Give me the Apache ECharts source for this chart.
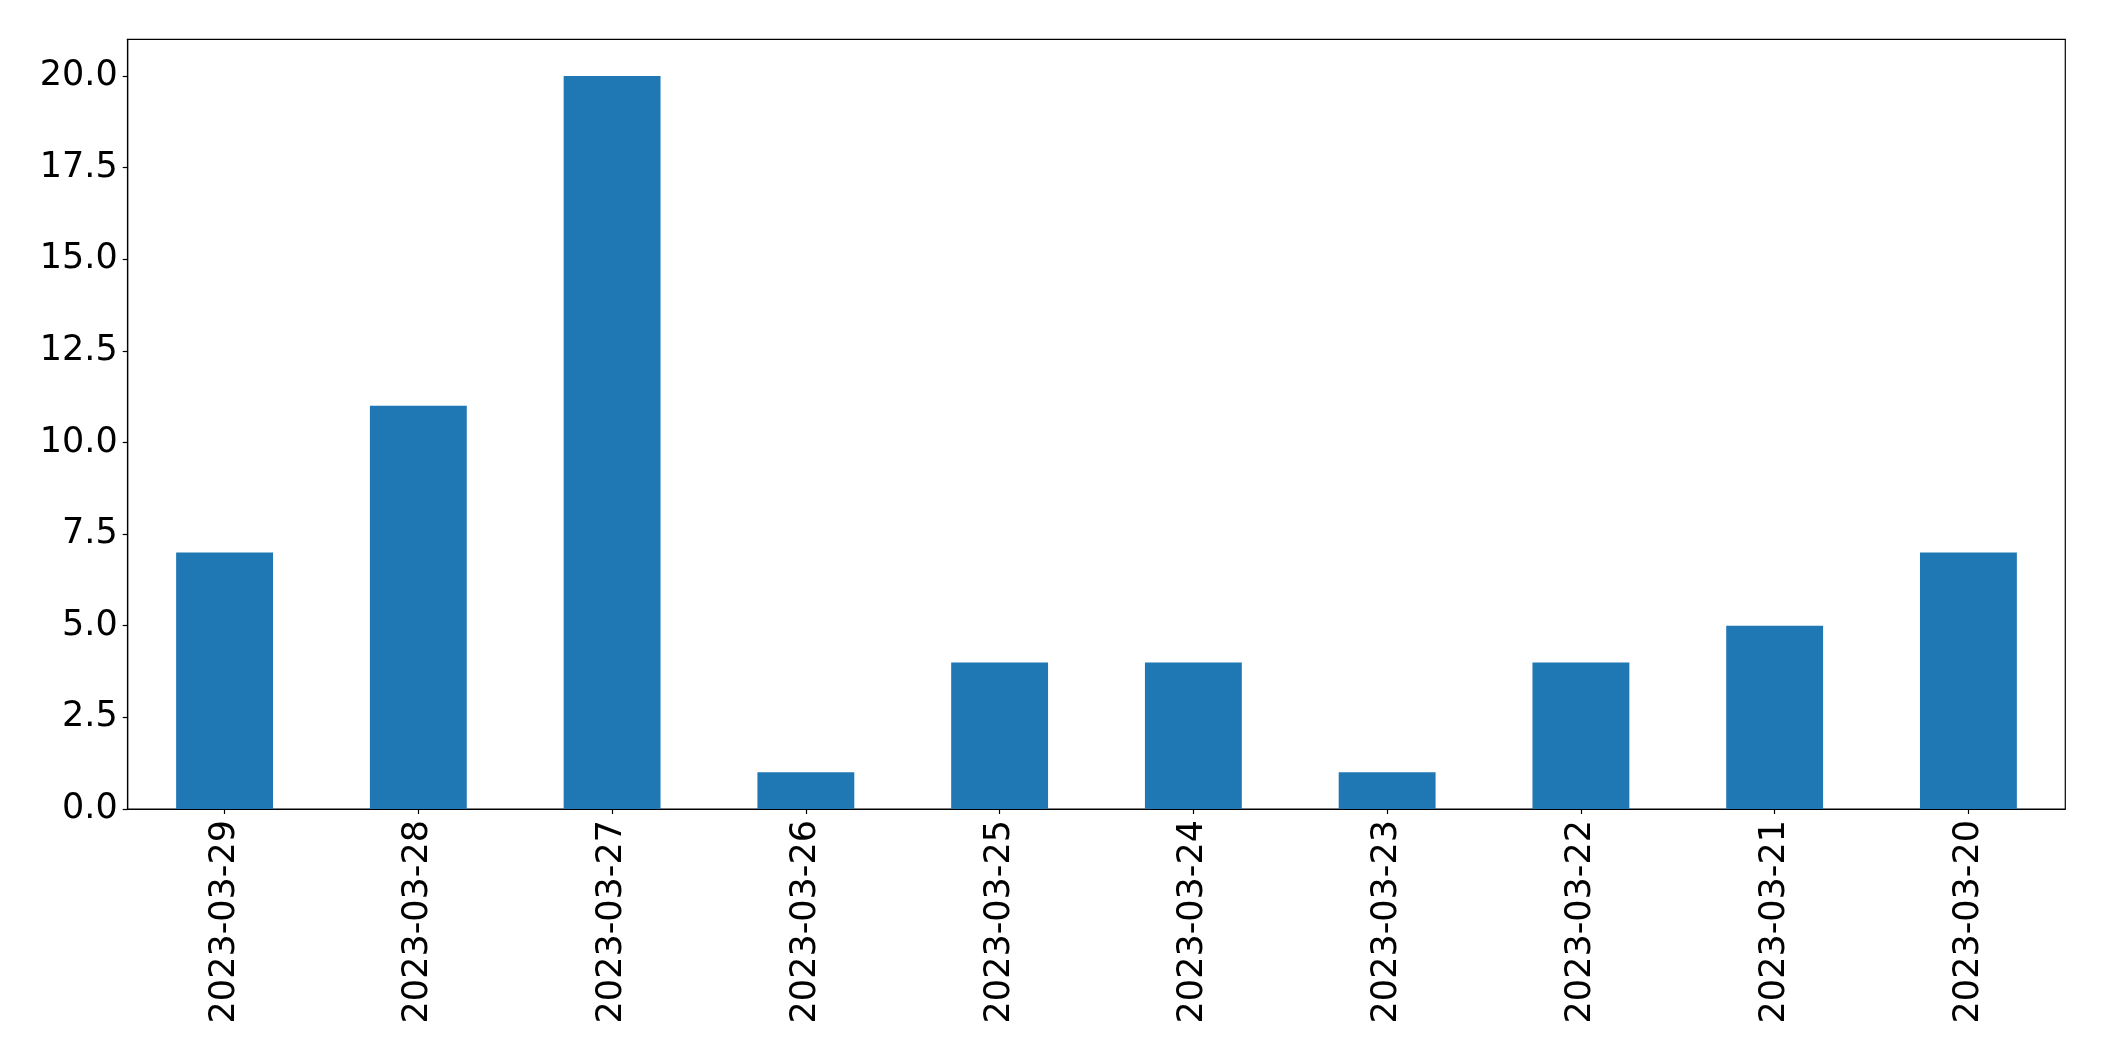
<!DOCTYPE html>
<html>
<head>
<meta charset="utf-8">
<script src="https://cdn.jsdelivr.net/npm/echarts@6/dist/echarts.min.js"></script>
<style>html,body{margin:0;padding:0;background:#fff;}#c{width:2104px;height:1061px;}</style>
</head>
<body>
<div id="c"></div>
<script>
const categories = ['2023-03-29','2023-03-28','2023-03-27','2023-03-26','2023-03-25','2023-03-24','2023-03-23','2023-03-22','2023-03-21','2023-03-20'];
const values = [7, 11, 20, 1, 4, 4, 1, 4, 5, 7];
const yTicks = [0, 2.5, 5, 7.5, 10, 12.5, 15, 17.5, 20];

const chart = echarts.init(document.getElementById('c'), null, {renderer: 'canvas'});
const font = 'DejaVu Sans';
chart.setOption({
  animation: false,
  backgroundColor: '#ffffff',
  grid: {left: 127.7, right: 38.7, top: 39.3, bottom: 252, show: true, borderColor: '#000', borderWidth: 1.2, backgroundColor: 'transparent'},
  xAxis: {
    type: 'category',
    data: categories,
    boundaryGap: true,
    axisLine: {show: true, lineStyle: {color: '#000', width: 1.2}},
    axisTick: {show: true, alignWithLabel: true, length: 5, lineStyle: {color: '#000', width: 1.2}},
    axisLabel: {rotate: 90, margin: 11, fontFamily: font, fontSize: 35, color: '#000', interval: 0},
    splitLine: {show: false}
  },
  yAxis: {
    type: 'value',
    min: 0, max: 21,
    interval: 2.5,
    axisLine: {show: true, lineStyle: {color: '#000', width: 1.2}},
    axisTick: {show: true, length: 5, customValues: yTicks, lineStyle: {color: '#000', width: 1.2}},
    axisLabel: {customValues: yTicks, margin: 10, fontFamily: font, fontSize: 35, color: '#000', formatter: v => Number(v).toFixed(1)},
    splitLine: {show: false}
  },
  series: [{
    type: 'bar',
    data: values,
    barWidth: '50%',
    itemStyle: {color: '#1f77b4'}
  }]
});
</script>
</body>
</html>
